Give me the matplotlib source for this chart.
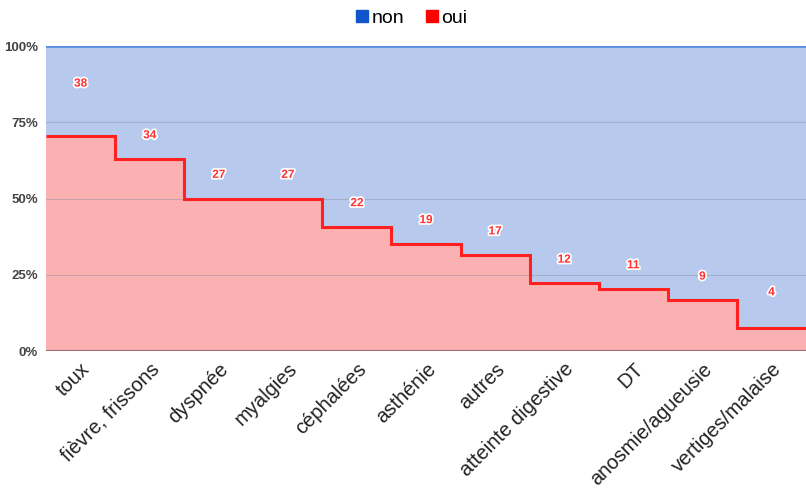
import numpy as np
import matplotlib.pyplot as plt
import matplotlib.patheffects as pe
import matplotlib.transforms as mtransforms
from matplotlib.lines import Line2D

# Symptoms reported (count of "oui" out of all patients)
categories = ["toux", "fièvre, frissons", "dyspnée", "myalgies", "céphalées",
              "asthénie", "autres", "atteinte digestive", "DT",
              "anosmie/agueusie", "vertiges/malaise"]
oui = np.array([38, 34, 27, 27, 22, 19, 17, 12, 11, 9, 4])
non = np.array([16, 20, 27, 27, 32, 35, 37, 42, 43, 45, 50])
yticks = [0, 0.25, 0.5, 0.75, 1.0]
ytick_labels = ["0%", "25%", "50%", "75%", "100%"]

plt.rcParams['font.family'] = ['Liberation Sans', 'DejaVu Sans']

total = oui + non
frac_oui = oui / total
edges = np.arange(len(categories) + 1)

fig = plt.figure(figsize=(8.06, 4.91), dpi=100)
ax = fig.add_axes([0.0571, 0.2851, 0.9429, 0.6212])

# stacked 100% stepped areas
ax.stairs(np.ones(len(categories)), edges, baseline=frac_oui, fill=True,
          color='#b7caee', zorder=1)
ax.stairs(frac_oui, edges, baseline=0, fill=True, color='#fbb1b1', zorder=1)
ax.stairs(frac_oui, edges, baseline=None, color='#ff2020', linewidth=2.2, zorder=3)
ax.plot([0, len(categories)], [1, 1], color='#5b8ee0', linewidth=2, zorder=3)

# gridlines
for y in yticks[1:-1]:
    ax.axhline(y, color='#8a8fa0', linewidth=0.8, alpha=0.45, zorder=2)
ax.axhline(0, color='#a06a70', linewidth=1.5, zorder=4)

# value labels above each step
label_offsets = [38, 17, 17, 17, 17, 17, 17, 17, 17, 17, 26]
centers = edges[:-1] + 0.5
for x, f, v, off in zip(centers, frac_oui, oui, label_offsets):
    ax.annotate(str(v), (x, f), xytext=(0, off), textcoords='offset points',
                ha='center', va='center', fontsize=8.5, fontweight='bold',
                color='#ff3030',
                path_effects=[pe.withStroke(linewidth=2.5, foreground='white')],
                zorder=5)

ax.set_xlim(0, len(categories))
ax.set_ylim(0, 1)
ax.set_xticks(centers)
ax.set_xticklabels(categories, rotation=45, ha='right', rotation_mode='anchor',
                   fontsize=14.5, color='#222222')
shift = mtransforms.ScaledTranslation(-4 / 72, 2 / 72, fig.dpi_scale_trans)
for lbl in ax.get_xticklabels():
    lbl.set_transform(lbl.get_transform() + shift)
ax.set_yticks(yticks)
ax.set_yticklabels(ytick_labels, fontsize=9.5, fontweight='bold', color='#444444')
ax.tick_params(length=0, pad=6)
for s in ax.spines.values():
    s.set_visible(False)

handles = [Line2D([], [], marker='s', linestyle='none', markersize=9,
                  color='#1155cc', label='non'),
           Line2D([], [], marker='s', linestyle='none', markersize=9,
                  color='#ff0000', label='oui')]
fig.legend(handles=handles, loc='center', bbox_to_anchor=(0.51, 0.963), ncol=2,
           frameon=False, fontsize=14, handletextpad=0.1, columnspacing=1.0,
           handlelength=0.8)

fig.savefig('out.png', dpi=100)
